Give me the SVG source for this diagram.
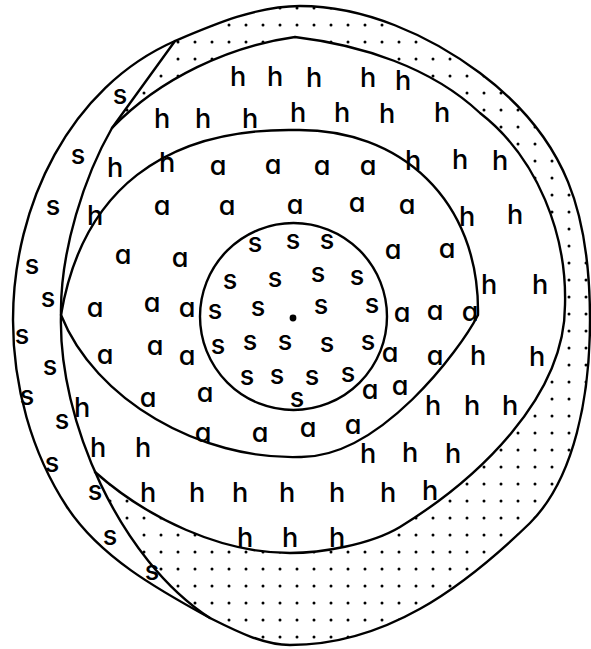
<svg xmlns="http://www.w3.org/2000/svg" width="591" height="649" viewBox="0 0 591 649">
<style>
.ln{fill:none;stroke:#000;stroke-width:2.4;stroke-linejoin:round;stroke-linecap:round}
.wh{fill:#fff;stroke:none}
text{font-family:Inter,"Liberation Sans",sans-serif;font-size:27px;font-weight:500;text-anchor:middle;fill:#000}
.a{font-feature-settings:"cv11" 1}
</style>
<defs>
<pattern id="dots" patternUnits="userSpaceOnUse" width="17" height="17">
<circle cx="8" cy="8" r="1.5" fill="#000"/>
</pattern>
</defs>
<rect width="591" height="649" fill="#fff"/>
<g id="fills">
<path id="dotted-ring" fill="url(#dots)" d="M300,6 C364,6 429,35 480,73 C568,139 590,215 590,320 C590,395 575,478 530,523 C462,589 385,645 290,645 C263,645 234,630 210,618 C157,589 100,557 67,507 C31,452 13,385 13,320 C13,205 70,87 175,41 C215,24 257,6 300,6 Z"/>
<path class="wh" d="M210,618 C157,589 100,557 67,507 C31,452 13,385 13,320 C13,205 70,87 175,41 L112,128 C85,175 60,250 61,315 C58,420 120,560 210,618 Z"/>
<path class="wh" d="M112,128 C160,78 230,46 295,37 C361,45 431,67 480,113 C538,158 567,235 565,305 C565,397 478,479 400,527 C370,545 320,553 290,553 C220,553 147,518 95,472 L30,472 L30,128 Z"/>
</g>
<g id="outlines">
<path id="outer" class="ln" d="M300,6 C364,6 429,35 480,73 C568,139 590,215 590,320 C590,395 575,478 530,523 C462,589 385,645 290,645 C263,645 234,630 210,618 C157,589 100,557 67,507 C31,452 13,385 13,320 C13,205 70,87 175,41 C215,24 257,6 300,6 Z"/>
<path id="crescent" class="ln" d="M175,41 L112,128 C85,175 60,250 61,315 C58,420 120,560 210,618"/>
<path id="h-zone" class="ln" d="M112,128 C160,78 230,46 295,37 C361,45 431,67 480,113 C538,158 567,235 565,305 C565,397 478,479 400,527 C370,545 320,553 290,553 C220,553 147,518 95,472"/>
<path id="lens" class="ln" d="M61,315 C82,190 165,128 295,130 C400,128 480,200 478,315 C460,350 380,458 300,457 C200,460 95,400 61,315 Z"/>
<circle id="core" class="ln" cx="293.5" cy="316.5" r="93.5"/>
<circle cx="293" cy="318" r="3.4" fill="#000"/>
</g>
<g id="h-letters">
<text x="238" y="86">h</text><text x="275" y="86">h</text><text x="314" y="87">h</text><text x="368" y="87">h</text><text x="403" y="90">h</text>
<text x="162" y="128">h</text><text x="203" y="128">h</text><text x="250" y="128">h</text><text x="298" y="122">h</text><text x="342" y="122">h</text><text x="387" y="123">h</text><text x="442" y="122">h</text>
<text x="115" y="177">h</text><text x="167" y="172">h</text><text x="413" y="170">h</text><text x="460" y="169">h</text><text x="500" y="170">h</text>
<text x="95" y="225">h</text><text x="467" y="226">h</text><text x="515" y="224">h</text>
<text x="489" y="294">h</text><text x="540" y="294">h</text>
<text x="478" y="365">h</text><text x="537" y="366">h</text>
<text x="82" y="417">h</text><text x="433" y="415">h</text><text x="472" y="415">h</text><text x="510" y="415">h</text>
<text x="98" y="457">h</text><text x="143" y="457">h</text><text x="368" y="463">h</text><text x="410" y="462">h</text><text x="453" y="463">h</text>
<text x="148" y="502">h</text><text x="197" y="502">h</text><text x="240" y="502">h</text><text x="287" y="502">h</text><text x="337" y="502">h</text><text x="388" y="502">h</text><text x="430" y="500">h</text>
<text x="245" y="547">h</text><text x="290" y="547">h</text><text x="337" y="547">h</text>
</g>
<g id="a-letters" class="a">
<text x="218" y="175">a</text><text x="273" y="174">a</text><text x="322" y="175">a</text><text x="368" y="175">a</text>
<text x="162" y="215">a</text><text x="227" y="215">a</text><text x="295" y="214">a</text><text x="357" y="212">a</text><text x="407" y="214">a</text>
<text x="123" y="264">a</text><text x="180" y="267">a</text><text x="393" y="259">a</text><text x="447" y="258">a</text>
<text x="95" y="317">a</text><text x="152" y="312">a</text><text x="187" y="317">a</text><text x="402" y="322">a</text><text x="435" y="320">a</text><text x="470" y="321">a</text>
<text x="105" y="364">a</text><text x="155" y="355">a</text><text x="187" y="365">a</text><text x="390" y="362">a</text><text x="435" y="365">a</text>
<text x="148" y="407">a</text><text x="205" y="402">a</text><text x="370" y="399">a</text><text x="400" y="395">a</text>
<text x="203" y="442">a</text><text x="260" y="442">a</text><text x="308" y="437">a</text><text x="353" y="434">a</text>
</g>
<g id="s-letters">
<text x="255" y="252">s</text><text x="293" y="249">s</text><text x="327" y="249">s</text>
<text x="230" y="289">s</text><text x="275" y="287">s</text><text x="318" y="282">s</text><text x="357" y="285">s</text>
<text x="215" y="319">s</text><text x="258" y="316">s</text><text x="321" y="314">s</text><text x="372" y="313">s</text>
<text x="218" y="354">s</text><text x="250" y="350">s</text><text x="285" y="350">s</text><text x="327" y="352">s</text><text x="368" y="350">s</text>
<text x="247" y="385">s</text><text x="277" y="384">s</text><text x="312" y="385">s</text><text x="348" y="382">s</text>
<text x="297" y="407">s</text>
<text x="120" y="104">s</text><text x="78" y="164">s</text><text x="53" y="215">s</text><text x="32" y="274">s</text><text x="48" y="307">s</text><text x="22" y="344">s</text><text x="50" y="375">s</text><text x="27" y="405">s</text><text x="62" y="429">s</text><text x="52" y="472">s</text><text x="95" y="500">s</text><text x="110" y="545">s</text><text x="152" y="580">s</text>
</g>
</svg>
